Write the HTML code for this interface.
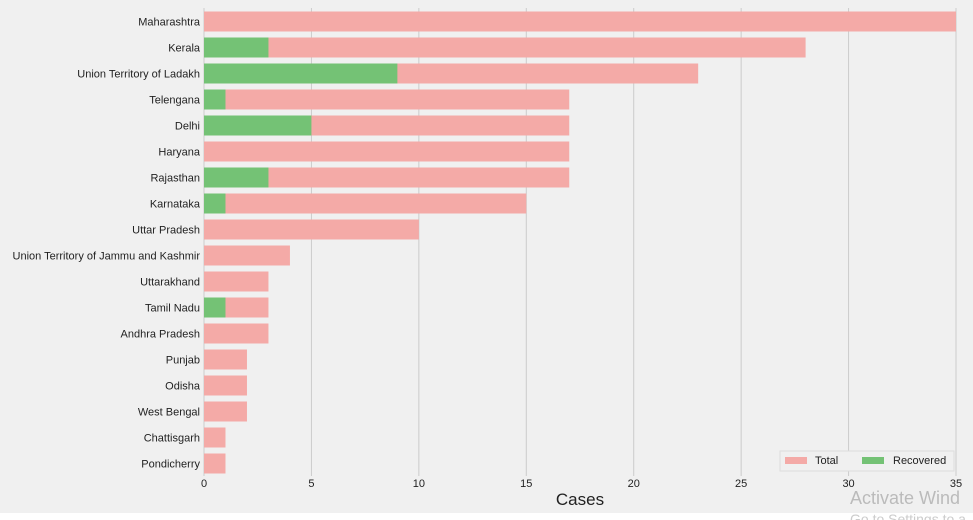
<!DOCTYPE html>
<html><head><meta charset="utf-8"><style>
body{margin:0;background:#fff;font-family:"Liberation Sans",sans-serif}
svg{display:block}
</style></head><body>
<svg id="chart" width="973" height="520">
<rect x="0" y="0" width="973" height="513" fill="#f0f0f0"/>
<g id="grid"></g><g id="bars"></g><g id="labels"></g><g id="ticks"></g>
<text x="580" y="505" font-size="17" text-anchor="middle" fill="#222">Cases</text>
<g>
<rect x="780" y="451" width="174" height="20" fill="#f0f0f0" stroke="#ddd"/>
<rect x="785" y="457" width="22" height="7" fill="#f4aaa7"/>
<text x="815" y="464" font-size="11" fill="#222">Total</text>
<rect x="862" y="457" width="22" height="7" fill="#74c275"/>
<text x="893" y="464" font-size="11" fill="#222">Recovered</text>
</g>
<text x="850" y="504" font-size="18" fill="#bbb">Activate Wind</text>
<text x="850" y="524" font-size="14" fill="#ccc">Go to Settings to a</text>
</svg>
<script>
const states=["Maharashtra","Kerala","Union Territory of Ladakh","Telengana","Delhi","Haryana","Rajasthan","Karnataka","Uttar Pradesh","Union Territory of Jammu and Kashmir","Uttarakhand","Tamil Nadu","Andhra Pradesh","Punjab","Odisha","West Bengal","Chattisgarh","Pondicherry"];
const totals=[35,28,23,17,17,17,17,15,10,4,3,3,3,2,2,2,1,1];
const recovered=[0,3,9,1,5,0,3,1,0,0,0,1,0,0,0,0,0,0];
const xTicks=[0,5,10,15,20,25,30,35];
const NS="http://www.w3.org/2000/svg";
const x=v=>204+v*(956-204)/35;
const yc=i=>21.5+i*26;
function mk(p,tag,at){const e=document.createElementNS(NS,tag);for(const k in at)e.setAttribute(k,at[k]);document.getElementById(p).appendChild(e);return e;}
xTicks.forEach(t=>{
 const l=mk('grid','line',{x1:x(t),x2:x(t),y1:8,y2:476,stroke:'#cbcbcb','stroke-width':1});
 
 
 const tx=mk('ticks','text',{x:x(t),y:487,'font-size':11,'text-anchor':'middle',fill:'#222'});
 tx.textContent=t;
 
 
});
states.forEach((s,i)=>{
 const b=mk('bars','rect',{x:x(0),y:yc(i)-10,width:x(totals[i])-x(0),height:20,fill:'#f4aaa7'});
 
 
 if(recovered[i]>0){
  const r=mk('bars','rect',{x:x(0),y:yc(i)-10,width:x(recovered[i])-x(0),height:20,fill:'#74c275'});
  
  
 }
 const t=mk('labels','text',{x:200,y:yc(i)+4,'font-size':11,'text-anchor':'end',fill:'#222'});
 t.textContent=s;
 
 
});
</script>
</body></html>
